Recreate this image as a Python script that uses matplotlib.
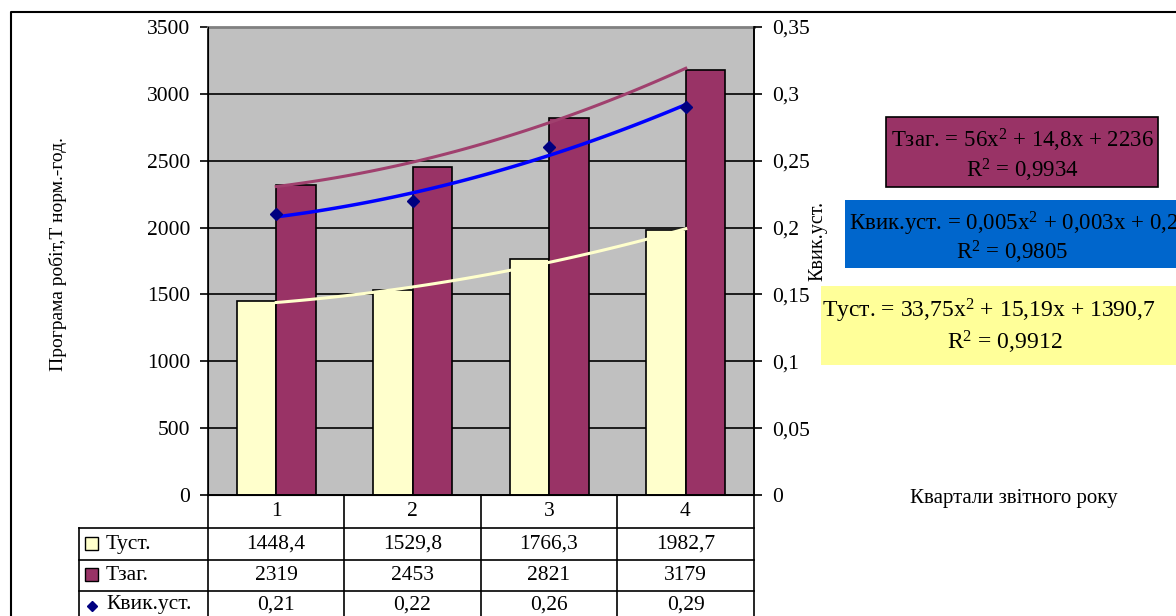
"""Quarterly work programme chart with trendlines and data table."""

import matplotlib

matplotlib.use("Agg")

import matplotlib.pyplot as plt  # noqa: E402
import matplotlib.patches as mpatches  # noqa: E402
import numpy as np  # noqa: E402

plt.rcParams["font.family"] = ["Liberation Serif", "DejaVu Serif"]
plt.rcParams["mathtext.fontset"] = "custom"
plt.rcParams["mathtext.rm"] = "Liberation Serif"
plt.rcParams["mathtext.it"] = "Liberation Serif"

# data
quarters = [1, 2, 3, 4]
t_ust = [1448.4, 1529.8, 1766.3, 1982.7]
t_zag = [2319, 2453, 2821, 3179]
k_vyk = [0.21, 0.22, 0.26, 0.29]
t_ust_txt = ["1448,4", "1529,8", "1766,3", "1982,7"]
t_zag_txt = ["2319", "2453", "2821", "3179"]
k_vyk_txt = ["0,21", "0,22", "0,26", "0,29"]
left_ticks = [0, 500, 1000, 1500, 2000, 2500, 3000, 3500]
right_ticks = [0, 0.05, 0.1, 0.15, 0.2, 0.25, 0.3, 0.35]
right_tick_labels = ["0", "0,05", "0,1", "0,15", "0,2", "0,25", "0,3", "0,35"]

YELLOW = "#FFFFCC"
PURPLE = "#993366"
BLUE = "#0000FF"
NAVY = "#000080"
W, H = 1176, 616
TICK_FS = 15.5
TABLE_FS = 15.5
BOX_FS = 16.5


def fig_rect(x0, y0, x1, y1):
    """Pixel box (top-left origin) -> figure fraction rect."""
    return [x0 / W, 1 - y1 / H, (x1 - x0) / W, (y1 - y0) / H]


fig = plt.figure(figsize=(W / 100, H / 100), dpi=100)

# overlay axes in pixel coords for frame, table and notes
ov = fig.add_axes([0, 0, 1, 1], zorder=0)
ov.set_xlim(0, W)
ov.set_ylim(H, 0)
ov.axis("off")

ax = fig.add_axes(fig_rect(208, 27, 754, 495), zorder=2)
ax.set_facecolor("#C0C0C0")
ax.set_xlim(0.5, 4.5)
ax.set_ylim(0, 3500)
ax.set_axisbelow(True)
ax.yaxis.grid(True, color="black", linewidth=1.2)

x = np.array(quarters)
bw = 0.29
ax.bar(x - bw / 2, t_ust, width=bw, color=YELLOW, edgecolor="black",
       linewidth=1.2, zorder=2)
ax.bar(x + bw / 2, t_zag, width=bw, color=PURPLE, edgecolor="black",
       linewidth=1.2, zorder=2)

# polynomial trendlines (2nd order), as in the source chart
xs = np.linspace(1, 4, 100)
ax.plot(xs, np.polyval(np.polyfit(x, t_zag, 2), xs), color="#A0406E",
        linewidth=2.2, zorder=3)
ax.plot(xs, np.polyval(np.polyfit(x, t_ust, 2), xs), color=YELLOW,
        linewidth=2.2, zorder=3)

ax.set_xticks([])
ax.set_yticks(left_ticks)
ax.set_yticklabels([str(v) for v in left_ticks], fontsize=TICK_FS)
ax.tick_params(axis="y", direction="out", length=6, width=1.2, pad=7)
ax.spines["top"].set_color("#808080")
ax.spines["top"].set_linewidth(2)
for s in ("left", "bottom", "right"):
    ax.spines[s].set_linewidth(1.2)

ax2 = ax.twinx()
ax2.set_ylim(0, 0.35)
ax2.plot(xs, np.polyval(np.polyfit(x, k_vyk, 2), xs), color=BLUE,
         linewidth=2.5, zorder=3)
ax2.plot(x, k_vyk, linestyle="none", marker="D", markersize=6,
         color=NAVY, zorder=4)
ax2.set_yticks(right_ticks)
ax2.set_yticklabels(right_tick_labels, fontsize=TICK_FS)
ax2.tick_params(axis="y", direction="out", length=6, width=1.2, pad=7)
ax2.spines["top"].set_visible(False)
ax2.spines["right"].set_linewidth(1.2)

# axis titles
fig.text(58 / W, 1 - 254 / H, "Програма робіт,Т норм.-год.", rotation=90,
         ha="center", va="center", fontsize=14)
fig.text(818 / W, 1 - 241 / H, "Квик.уст.", rotation=90,
         ha="center", va="center", fontsize=14.5)
fig.text(1014 / W, 1 - 498 / H, "Квартали звітного року",
         ha="center", va="center", fontsize=15)

# outer frame (right and bottom are outside the crop)
ov.plot([11, 11, W + 5], [H + 5, 12, 12], color="black", linewidth=1.5)

# data table under the plot
cols = [208, 344, 481, 617, 754]
rows = [495, 528, 560, 591, H + 5]
for y in rows[1:-1]:
    ov.plot([79, 754], [y, y], color="black", linewidth=1.2)
ov.plot([79, 79], [528, H + 5], color="black", linewidth=1.2)
for cx in cols:
    ov.plot([cx, cx], [495, H + 5], color="black", linewidth=1.2)

centers = [(cols[i] + cols[i + 1]) / 2 for i in range(4)]
for cx, q in zip(centers, quarters):
    ov.text(cx, 512, str(q), ha="center", va="center", fontsize=TABLE_FS)

table_rows = [
    ("Туст.", t_ust_txt, 544),
    ("Тзаг.", t_zag_txt, 575),
    ("Квик.уст.", k_vyk_txt, 605),
]
for label, vals, yc in table_rows:
    ov.text(106, yc, label, ha="left", va="center", fontsize=TABLE_FS)
    for cx, v in zip(centers, vals):
        ov.text(cx, yc, v, ha="center", va="center", fontsize=TABLE_FS)

ov.add_patch(mpatches.Rectangle((85, 537), 13, 13, facecolor=YELLOW,
                                edgecolor="black", linewidth=1))
ov.add_patch(mpatches.Rectangle((85, 568), 13, 13, facecolor=PURPLE,
                                edgecolor="black", linewidth=1))
ov.plot([92], [606], marker="D", markersize=5, color=NAVY)

# trendline equation boxes
ov.add_patch(mpatches.Rectangle((886, 117), 272, 70, facecolor=PURPLE,
                                edgecolor="black", linewidth=1.2))
ov.text(1022, 140, "Тзаг. = 56x$^2$ + 14,8x + 2236", ha="center",
        va="center", fontsize=BOX_FS)
ov.text(1022, 170, "R$^2$ = 0,9934", ha="center", va="center",
        fontsize=BOX_FS)

ov.add_patch(mpatches.Rectangle((845, 200), 340, 68, facecolor="#0066CC",
                                edgecolor="none"))
ov.text(849, 224, "Квик.уст. = 0,005x$^2$ + 0,003x + 0,2", ha="left",
        va="center", fontsize=BOX_FS)
ov.text(1012, 252, "R$^2$ = 0,9805", ha="center", va="center",
        fontsize=BOX_FS)

ov.add_patch(mpatches.Rectangle((821, 286), 360, 79, facecolor="#FFFF99",
                                edgecolor="none"))
ov.text(822, 311, "Туст. = 33,75x$^2$ + 15,19x + 1390,7", ha="left",
        va="center", fontsize=17)
ov.text(1005, 342, "R$^2$ = 0,9912", ha="center", va="center",
        fontsize=17)

fig.savefig("out.png", dpi=100)
plt.close(fig)
